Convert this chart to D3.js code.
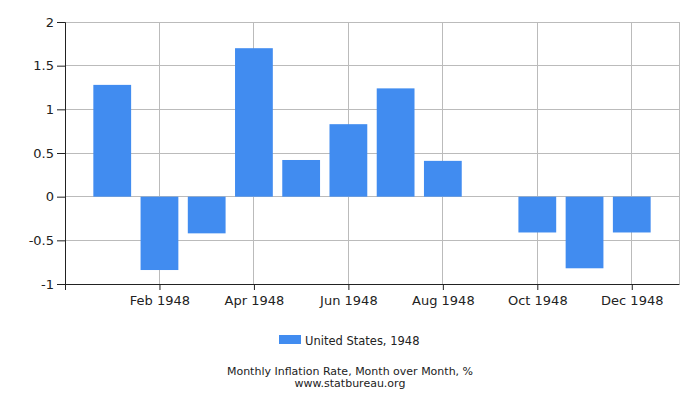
<!DOCTYPE html>
<html>
<head>
<meta charset="utf-8">
<script src="https://cdn.jsdelivr.net/npm/d3@7"></script>
<style>
  body { margin: 0; background: #fff; }
  text { font-family: "DejaVu Sans", sans-serif; fill: #222; }
</style>
</head>
<body>
<svg id="chart" width="700" height="400"></svg>
<script>
var months = ["Jan 1948", "Feb 1948", "Mar 1948", "Apr 1948", "May 1948", "Jun 1948",
              "Jul 1948", "Aug 1948", "Sep 1948", "Oct 1948", "Nov 1948", "Dec 1948"];
var values = [1.28, -0.84, -0.42, 1.70, 0.42, 0.83, 1.24, 0.41, 0, -0.41, -0.82, -0.41];
var shownLabels = ["Feb 1948", "Apr 1948", "Jun 1948", "Aug 1948", "Oct 1948", "Dec 1948"];
var yTicks = [-1, -0.5, 0, 0.5, 1, 1.5, 2];
var seriesName = "United States, 1948";
var barColor = "#418cf0";

// plot box (window.top is read-only, so no plain "top")
var plotLeft = 65, plotRight = 679, plotTop = 22, plotBottom = 284;

var svg = d3.select("#chart");

// month index 1..12 sits on a linear scale 0..13
var x = d3.scaleLinear().domain([0, 13]).range([plotLeft, plotRight]);
var y = d3.scaleLinear().domain([-1, 2]).range([plotBottom, plotTop]);
var step = x(1) - x(0);
var barW = step * 0.8;

// grid
svg.append("g").selectAll("line")
    .data(yTicks)
    .enter().append("line")
        .attr("x1", plotLeft).attr("x2", plotRight)
        .attr("y1", function(d) { return y(d); })
        .attr("y2", function(d) { return y(d); })
        .attr("stroke", "#bbb").attr("stroke-width", 1).attr("shape-rendering", "crispEdges");

svg.append("g").selectAll("line")
    .data(shownLabels)
    .enter().append("line")
        .attr("x1", function(d) { return x(months.indexOf(d) + 1); })
        .attr("x2", function(d) { return x(months.indexOf(d) + 1); })
        .attr("y1", plotTop).attr("y2", plotBottom)
        .attr("stroke", "#bbb").attr("stroke-width", 1).attr("shape-rendering", "crispEdges");

svg.append("line")
    .attr("x1", plotRight).attr("x2", plotRight).attr("y1", plotTop).attr("y2", plotBottom)
    .attr("stroke", "#bbb").attr("shape-rendering", "crispEdges");

// bars
svg.append("g").selectAll("rect")
    .data(values)
    .enter().append("rect")
        .attr("x", function(d, i) { return x(i + 1) - barW / 2; })
        .attr("width", barW)
        .attr("y", function(d) { return y(Math.max(0, d)); })
        .attr("height", function(d) { return Math.abs(y(d) - y(0)); })
        .attr("fill", barColor);

// y axis
var yAxis = d3.axisLeft(y).tickValues(yTicks).tickSize(8).tickPadding(3)
    .tickFormat(function(d) { return String(d); });
var gy = svg.append("g").attr("transform", "translate(" + plotLeft + ",0)").call(yAxis);
gy.select(".domain").attr("stroke", "#222");
gy.selectAll(".tick line").attr("stroke", "#222");
gy.selectAll("text").attr("font-size", 13).attr("font-family", "DejaVu Sans").attr("fill", "#222");

// x axis
var xAxis = d3.axisBottom(x)
    .tickValues([0].concat(shownLabels.map(function(d) { return months.indexOf(d) + 1; })))
    .tickSize(6).tickSizeOuter(0).tickPadding(6)
    .tickFormat(function(d) { return d === 0 ? "" : months[d - 1]; });
var gx = svg.append("g").attr("transform", "translate(0," + plotBottom + ")").call(xAxis);
gx.select(".domain").attr("stroke", "#222");
gx.selectAll(".tick line").attr("stroke", "#222");
gx.selectAll("text").attr("font-size", 13).attr("font-family", "DejaVu Sans").attr("fill", "#222");

// legend
svg.append("rect")
    .attr("x", 279).attr("y", 335).attr("width", 22).attr("height", 9)
    .attr("fill", barColor);
svg.append("text")
    .attr("x", 305).attr("y", 344.5)
    .attr("font-size", 11.5)
    .text(seriesName);

// caption
svg.append("text")
    .attr("x", 350).attr("y", 374.5)
    .attr("text-anchor", "middle").attr("font-size", 11)
    .text("Monthly Inflation Rate, Month over Month, %");
svg.append("text")
    .attr("x", 350).attr("y", 386.5)
    .attr("text-anchor", "middle").attr("font-size", 11)
    .text("www.statbureau.org");
</script>
</body>
</html>
